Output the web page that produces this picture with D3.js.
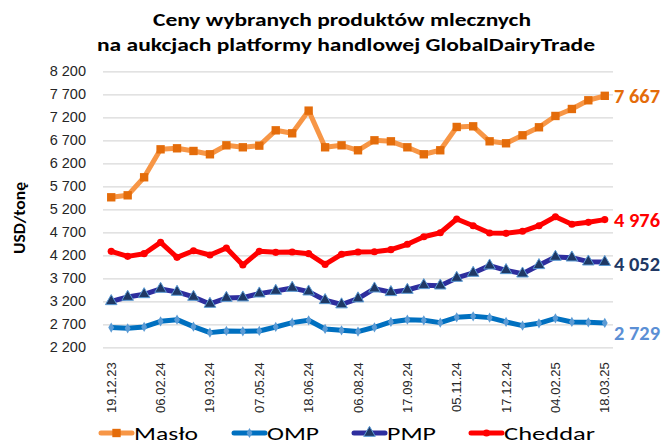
<!DOCTYPE html>
<html>
<head>
<meta charset="utf-8">
<script src="https://cdn.jsdelivr.net/npm/d3@7"></script>
<style>
  body { margin: 0; background: #fff; }
  svg { display: block; font-family: Carlito, Lato, "Open Sans", sans-serif; }
</style>
</head>
<body>
<script>
// GDT auction dates (every auction), only every 3rd one is labelled
var dates = ["19.12.23","02.01.24","16.01.24","06.02.24","20.02.24","05.03.24","19.03.24","02.04.24","16.04.24","07.05.24","21.05.24","04.06.24","18.06.24","02.07.24","16.07.24","06.08.24","20.08.24","03.09.24","17.09.24","01.10.24","15.10.24","05.11.24","19.11.24","03.12.24","17.12.24","07.01.25","21.01.25","04.02.25","18.02.25","04.03.25","18.03.25"];
var maslo = [5461,5504,5896,6504,6526,6468,6396,6591,6548,6584,6917,6852,7345,6548,6591,6483,6700,6678,6548,6396,6483,6990,7004,6678,6635,6809,6983,7229,7381,7570,7667];
var omp = [2628,2613,2642,2765,2801,2649,2519,2555,2548,2555,2642,2736,2787,2599,2570,2541,2635,2751,2801,2787,2736,2852,2874,2845,2751,2671,2722,2830,2751,2743,2729];
var pmp = [3200,3294,3352,3468,3403,3294,3142,3272,3280,3367,3425,3490,3410,3222,3130,3260,3475,3396,3446,3548,3540,3707,3816,3975,3874,3801,3983,4164,4149,4062,4052];
var cheddar = [4286,4177,4235,4482,4155,4300,4206,4358,3988,4286,4264,4271,4235,4002,4222,4271,4278,4322,4439,4604,4691,4989,4843,4685,4678,4722,4843,5039,4874,4917,4976];
var yTicks = [2200,2700,3200,3700,4200,4700,5200,5700,6200,6700,7200,7700,8200];
var seriesNames = ["Masło","OMP","PMP","Cheddar"];

var W = 665, H = 445;
var plotLeft = 103, plotRight = 613, plotTop = 71.3, plotBottom = 347.3;

var svg = d3.select('body').append('svg').attr('width', W).attr('height', H);

var x = d3.scalePoint().domain(dates).range([plotLeft, plotRight]).padding(0.5);
var y = d3.scaleLinear().domain([2200, 8200]).range([plotBottom, plotTop]);
var fmt = d3.formatLocale({decimal: ",", thousands: "\u00a0", grouping: [3], currency: ["", ""]}).format(",d");

/* title */
var title = svg.append('g').style('font-weight', 'bold').style('font-size', '17px').attr('fill', '#000');
title.append('text').attr('x', 342).attr('y', 26).attr('text-anchor', 'middle')
	.attr('textLength', 378).attr('lengthAdjust', 'spacingAndGlyphs')
	.text("Ceny wybranych produktów mlecznych");
title.append('text').attr('x', 346).attr('y', 51).attr('text-anchor', 'middle')
	.attr('textLength', 498).attr('lengthAdjust', 'spacingAndGlyphs')
	.text("na aukcjach platformy handlowej GlobalDairyTrade");

/* grid + y axis */
var yAxis = d3.axisLeft(y).tickValues(yTicks).tickSize(-(plotRight - plotLeft)).tickPadding(17).tickFormat(fmt);
var gy = svg.append('g').attr('transform', 'translate(' + plotLeft + ',0)').call(yAxis);
gy.select('.domain').remove();
gy.selectAll('.tick line').attr('stroke', '#d9d9d9').attr('stroke-width', 1.3);
gy.selectAll('.tick text').attr('fill', '#262626').style('font-size', '14.5px');

svg.append('text')
	.attr('transform', 'translate(25,218) rotate(-90)')
	.attr('text-anchor', 'middle')
	.attr('textLength', 72).attr('lengthAdjust', 'spacingAndGlyphs')
	.style('font-weight', 'bold').style('font-size', '16px')
	.text("USD/tonę");

/* x axis */
var xAxis = d3.axisBottom(x).tickValues(dates.filter(function(d, i){ return i % 3 === 0; })).tickSize(0).tickPadding(0);
var gx = svg.append('g').attr('transform', 'translate(0,' + plotBottom + ')').call(xAxis);
gx.select('.domain').remove();
gx.selectAll('.tick text')
	.attr('fill', '#262626')
	.style('font-size', '13px')
	.attr('text-anchor', 'end')
	.attr('dy', null)
	.attr('transform', 'translate(4,15) rotate(-90)')
	.attr('x', 0).attr('y', 0);

/* series */
var series = [
	{name: "Masło", values: maslo, line: "#f79646", mark: "#e46c0a", label: "#e46c0a", shape: d3.symbolSquare, size: 70, dy: 0, legW: 64},
	{name: "OMP", values: omp, line: "#0070c0", mark: "#5b9bd5", label: "#5b8fd5", shape: d3.symbolDiamond, size: 30, dy: 10, legW: 52},
	{name: "PMP", values: pmp, line: "#2e2e9e", mark: "#1f3864", label: "#203864", shape: d3.symbolTriangle, size: 58, dy: 2, stroke: "#5b9bd5", legW: 49},
	{name: "Cheddar", values: cheddar, line: "#ff0000", mark: "#ff0000", label: "#ff0000", shape: d3.symbolCircle, size: 40, dy: 0, legW: 91}
];

var line = d3.line()
	.x(function(d, i){ return x(dates[i]); })
	.y(function(d){ return y(d); });

var g = svg.selectAll('g.series').data(series).enter().append('g').classed('series', true);
g.append('path')
	.attr('d', function(s){ return line(s.values); })
	.attr('fill', 'none')
	.attr('stroke', function(s){ return s.line; })
	.attr('stroke-width', 5)
	.attr('stroke-linejoin', 'round');
g.each(function(s){
	d3.select(this).selectAll('path.pt').data(s.values).enter().append('path')
		.classed('pt', true)
		.attr('d', d3.symbol().type(s.shape).size(s.size))
		.attr('transform', function(d, i){ return 'translate(' + x(dates[i]) + ',' + y(d) + ')'; })
		.attr('fill', s.mark)
		.attr('stroke', s.stroke || 'none')
		.attr('stroke-width', 1);
});
g.append('text')
	.attr('x', plotRight + 1)
	.attr('y', function(s){ return y(s.values[s.values.length - 1]) + s.dy; })
	.attr('dy', '0.35em')
	.attr('fill', function(s){ return s.label; })
	.attr('textLength', 46).attr('lengthAdjust', 'spacingAndGlyphs')
	.style('font-weight', 'bold').style('font-size', '20px')
	.text(function(s){ return fmt(s.values[s.values.length - 1]); });

/* legend */
var legX = [101, 234, 354, 471];
var leg = svg.selectAll('g.leg').data(series).enter().append('g').classed('leg', true)
	.attr('transform', function(s, i){ return 'translate(' + legX[i] + ',433)'; });
leg.append('line').attr('x1', 0).attr('x2', 31).attr('y1', 0).attr('y2', 0)
	.attr('stroke', function(s){ return s.line; }).attr('stroke-width', 5).attr('stroke-linecap', 'round');
leg.append('path')
	.attr('d', function(s){ return d3.symbol().type(s.shape).size(s.size)(); })
	.attr('transform', 'translate(15.5,0)')
	.attr('fill', function(s){ return s.mark; })
	.attr('stroke', function(s){ return s.stroke || 'none'; });
leg.append('text').attr('x', 33).attr('dy', '0.35em')
	.style('font-size', '19px').attr('fill', '#000')
	.attr('textLength', function(s){ return s.legW; }).attr('lengthAdjust', 'spacingAndGlyphs')
	.text(function(s){ return s.name; });
</script>
</body>
</html>
